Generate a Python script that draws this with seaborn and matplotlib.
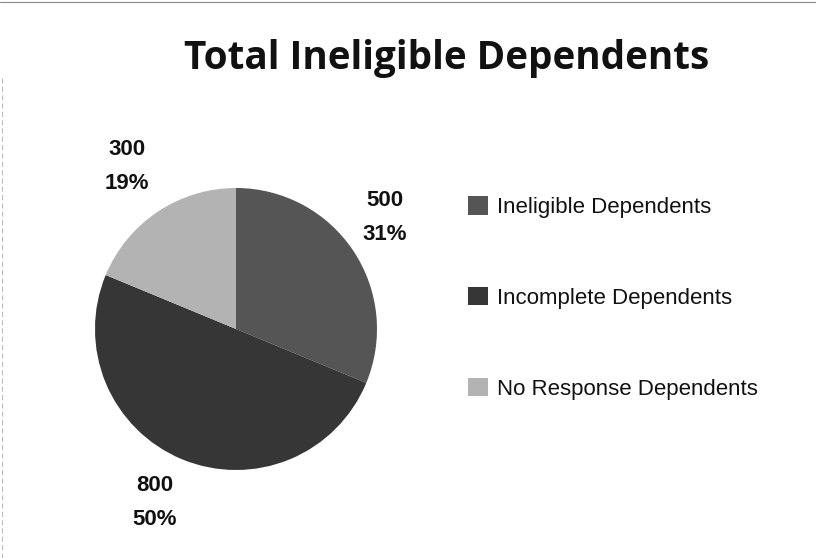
import numpy as np
import matplotlib
matplotlib.use("Agg")
import matplotlib.pyplot as plt
from matplotlib import font_manager
import seaborn as sns

categories = ["Ineligible Dependents", "Incomplete Dependents", "No Response Dependents"]
values = [500, 800, 300]
percent_labels = ["31%", "50%", "19%"]

sns.set_theme(style="white")
plt.rcParams["font.family"] = ["Liberation Sans", "DejaVu Sans"]

installed = {f.name for f in font_manager.fontManager.ttflist}
narrow = "Liberation Sans Narrow" in installed
body_family = ["Liberation Sans Narrow", "Liberation Sans"] if narrow else ["Liberation Sans", "DejaVu Sans"]
label_size = 18.5 if narrow else 16
legend_size = 19 if narrow else 16

colors = ["#555555", "#363636", "#b3b3b3"]

fig = plt.figure(figsize=(8.16, 5.58), dpi=100)
fig.patch.set_facecolor("white")

ax = fig.add_axes([0.1164, 0.1577, 0.3456, 0.5054])
wedges, _ = ax.pie(values, colors=colors, startangle=90, counterclock=False,
                   radius=1.0, wedgeprops=dict(linewidth=0))
ax.set_xlim(-1, 1)
ax.set_ylim(-1, 1)
ax.set_aspect("equal")
ax.axis("off")

# label placement (distance, angle tweak) per slice
label_dist = [1.32, 1.36, 1.387]
angle_shift = [3, -2.6, 0]
for w, v, p, d, s in zip(wedges, values, percent_labels, label_dist, angle_shift):
    ang = np.deg2rad((w.theta1 + w.theta2) / 2 + s)
    ax.text(d * np.cos(ang), d * np.sin(ang), f"{v}\n{p}", ha="center", va="center",
            fontsize=label_size, fontweight="bold", color="#111111", linespacing=1.85,
            clip_on=False, family=body_family)

# title
fig.text(0.547, 0.895, "Total Ineligible Dependents", ha="center", va="center",
         fontsize=27.8, fontweight="bold", color="#111111",
         family=["Open Sans", "DejaVu Sans"])

# legend
handles = [plt.Rectangle((0, 0), 1, 1, facecolor=c, edgecolor="none") for c in colors]
fig.legend(handles, categories, loc="center left", bbox_to_anchor=(0.5735, 0.466),
           frameon=False, prop={"family": body_family, "size": legend_size},
           handlelength=0.9, handleheight=0.9, handletextpad=0.4,
           labelspacing=3.1, borderpad=0, borderaxespad=0, labelcolor="#111111")

# scan border lines
fig.add_artist(plt.Line2D([0.0, 1.0], [0.997, 0.997], color="#888888", lw=0.8,
                          transform=fig.transFigure))
fig.add_artist(plt.Line2D([0.002, 0.002], [0.0, 0.86], color="#aaaaaa", lw=0.6,
                          linestyle=(0, (6, 4)), transform=fig.transFigure))

fig.savefig("out.png", dpi=100, facecolor="white")
